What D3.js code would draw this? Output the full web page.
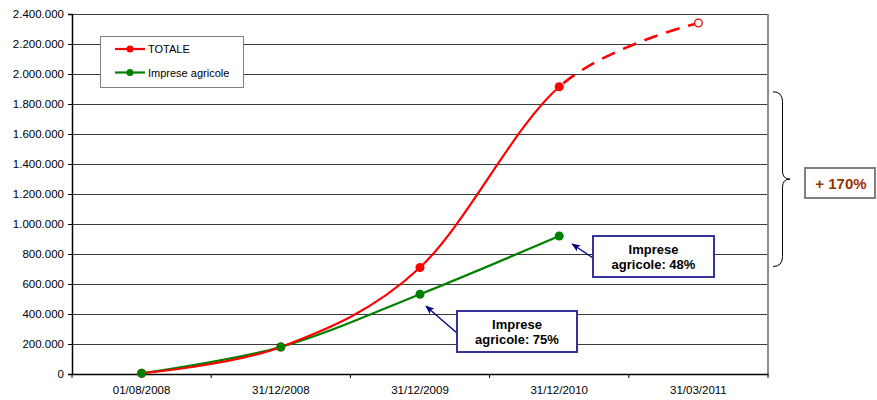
<!DOCTYPE html>
<html>
<head>
<meta charset="utf-8">
<script src="https://cdn.jsdelivr.net/npm/d3@7"></script>
<style>
  html, body { margin: 0; padding: 0; background: #fff; }
  svg { display: block; }
  text { font-family: "Liberation Sans", Arial, sans-serif; }
</style>
</head>
<body>
<svg id="chart" width="877" height="400"></svg>
<script>
// Dates on the category axis
const categories = ["01/08/2008", "31/12/2008", "31/12/2009", "31/12/2010", "31/03/2011"];
// Totale (last value is an estimate, drawn dashed with an open marker)
const totale = [5000, 180000, 710000, 1915000, 2340000];
// Imprese agricole (no value for the last date)
const impreseAgricole = [5000, 180000, 532000, 920000];
const yTicks = [0, 200000, 400000, 600000, 800000, 1000000, 1200000, 1400000, 1600000, 1800000, 2000000, 2200000, 2400000];
const seriesNames = ["TOTALE", "Imprese agricole"];
const notes = [
  { lines: ["Imprese", "agricole: 48%"] },
  { lines: ["Imprese", "agricole: 75%"] }
];
const growthLabel = "+ 170%";

const RED = "#ff0000", GREEN = "#008000", NAVY = "#333399";

const svg = d3.select("#chart");
const plotLeft = 72, plotRight = 768, plotTop = 14, plotBottom = 374;

const x = d3.scaleBand().domain(categories).range([plotLeft, plotRight]);
const cx = c => x(c) + x.bandwidth() / 2;
const y = d3.scaleLinear().domain([0, 2400000]).range([plotBottom, plotTop]);

const it = d3.formatLocale({ decimal: ",", thousands: ".", grouping: [3], currency: ["", "€"] });
const fmt = it.format(",");

// gridlines
svg.append("g").selectAll("line").data(yTicks.filter(v => v > 0)).join("line")
  .attr("x1", plotLeft).attr("x2", plotRight)
  .attr("y1", d => y(d)).attr("y2", d => y(d))
  .attr("stroke", "#3a3a3a").attr("stroke-width", 1).attr("shape-rendering", "crispEdges");

// right border of the plot area
svg.append("line").attr("x1", plotRight).attr("x2", plotRight).attr("y1", plotTop).attr("y2", plotBottom)
  .attr("stroke", "#8c8c8c").attr("stroke-width", 2);

// y axis
const yAxis = svg.append("g").attr("transform", `translate(${plotLeft},0)`)
  .call(d3.axisLeft(y).tickValues(yTicks).tickFormat(fmt).tickSize(4).tickPadding(4));
yAxis.select(".domain").attr("stroke", "#000").attr("stroke-width", 1.5);
yAxis.selectAll(".tick line").attr("stroke", "#000");
yAxis.selectAll("text").attr("font-size", 11.5).attr("fill", "#000")
  .attr("font-family", "'Liberation Sans', Arial, sans-serif");

// x axis: labels centred on categories, ticks between categories
const xAxis = svg.append("g").attr("transform", `translate(0,${plotBottom})`)
  .call(d3.axisBottom(x).tickSize(0).tickPadding(12));
xAxis.select(".domain").attr("stroke", "#000").attr("stroke-width", 1.5);
xAxis.selectAll("text").attr("font-size", 11.5).attr("fill", "#000")
  .attr("font-family", "'Liberation Sans', Arial, sans-serif");
const edges = categories.map(c => x(c)).concat([plotRight]);
svg.append("g").selectAll("line").data(edges).join("line")
  .attr("x1", d => d).attr("x2", d => d)
  .attr("y1", plotBottom).attr("y2", plotBottom + 4)
  .attr("stroke", "#000").attr("stroke-width", 1);

// smoothed lines
const line = d3.line().x(d => d[0]).y(d => d[1]).curve(d3.curveCatmullRom.alpha(0));
const redPts = totale.map((v, i) => [cx(categories[i]), y(v)]);
const greenPts = impreseAgricole.map((v, i) => [cx(categories[i]), y(v)]);

const defs = svg.append("defs");
const split = cx(categories[3]);
defs.append("clipPath").attr("id", "solidPart").append("rect")
  .attr("x", 0).attr("y", 0).attr("width", split).attr("height", 400);
defs.append("clipPath").attr("id", "dashPart").append("rect")
  .attr("x", split).attr("y", 0).attr("width", 877 - split).attr("height", 400);

svg.append("path").attr("d", line(greenPts)).attr("fill", "none")
  .attr("stroke", GREEN).attr("stroke-width", 2.2);
svg.append("path").attr("d", line(redPts)).attr("fill", "none")
  .attr("stroke", RED).attr("stroke-width", 2.2).attr("clip-path", "url(#solidPart)");
svg.append("path").attr("d", line(redPts.slice(2))).attr("fill", "none")
  .attr("stroke", RED).attr("stroke-width", 2.6).attr("stroke-dasharray", "14,9")
  .attr("stroke-dashoffset", -4)
  .attr("clip-path", "url(#dashPart)");

// markers
svg.append("g").selectAll("circle").data(redPts.slice(0, 4)).join("circle")
  .attr("cx", d => d[0]).attr("cy", d => d[1]).attr("r", 4.5).attr("fill", RED);
svg.append("circle").attr("cx", redPts[4][0]).attr("cy", redPts[4][1]).attr("r", 3.8)
  .attr("fill", "#fff").attr("stroke", RED).attr("stroke-width", 1.3);
svg.append("g").selectAll("circle").data(greenPts).join("circle")
  .attr("cx", d => d[0]).attr("cy", d => d[1]).attr("r", 4.5).attr("fill", GREEN);

// legend
const lg = svg.append("g");
lg.append("rect").attr("x", 100.5).attr("y", 36.5).attr("width", 143).attr("height", 51)
  .attr("fill", "#fff").attr("stroke", "#808080").attr("stroke-width", 1);
[RED, GREEN].forEach((col, i) => {
  const ly = 49 + i * 23.5;
  lg.append("line").attr("x1", 115).attr("x2", 145).attr("y1", ly).attr("y2", ly)
    .attr("stroke", col).attr("stroke-width", 2.2);
  lg.append("circle").attr("cx", 130).attr("cy", ly).attr("r", 3.5).attr("fill", col);
  lg.append("text").attr("x", 148).attr("y", ly + 4).attr("font-size", 11)
    .attr("fill", "#000").text(seriesNames[i]);
});

// arrowhead
defs.append("marker").attr("id", "arrow").attr("viewBox", "0 0 10 10")
  .attr("refX", 9).attr("refY", 5).attr("markerWidth", 7).attr("markerHeight", 7)
  .attr("orient", "auto-start-reverse")
  .append("path").attr("d", "M0,1 L10,5 L0,9 L2.5,5 Z").attr("fill", "#000080");

// annotation boxes with arrows pointing at the Imprese agricole markers
const boxes = [
  { x: 593, y: 236, w: 121, h: 41, from: [593, 258], to: [greenPts[3][0] + 13, greenPts[3][1] + 8] },
  { x: 457, y: 311, w: 120, h: 41, from: [457, 333], to: [greenPts[2][0] + 6, greenPts[2][1] + 12] }
];
boxes.forEach((b, i) => {
  svg.append("line").attr("x1", b.from[0]).attr("y1", b.from[1])
    .attr("x2", b.to[0]).attr("y2", b.to[1])
    .attr("stroke", "#000080").attr("stroke-width", 1.3).attr("marker-end", "url(#arrow)");
  svg.append("rect").attr("x", b.x).attr("y", b.y).attr("width", b.w).attr("height", b.h)
    .attr("fill", "#fff").attr("stroke", NAVY).attr("stroke-width", 2);
  notes[i].lines.forEach((t, k) => {
    svg.append("text").attr("x", b.x + b.w / 2).attr("y", b.y + 18 + k * 15)
      .attr("text-anchor", "middle").attr("font-size", 13).attr("font-weight", "bold")
      .attr("fill", "#000").text(t);
  });
});

// brace spanning the TOTALE growth from 2009 to 2010
const bTop = y(totale[3]) + 5, bBot = y(totale[2]) - 1, bMid = (bTop + bBot) / 2;
const bx0 = 773, bx1 = 782.5, bx2 = 790;
svg.append("path")
  .attr("d", `M${bx0},${bTop} Q${bx1},${bTop} ${bx1},${bTop + 10} L${bx1},${bMid - 8} Q${bx1},${bMid} ${bx2},${bMid} ` +
             `Q${bx1},${bMid} ${bx1},${bMid + 8} L${bx1},${bBot - 10} Q${bx1},${bBot} ${bx0},${bBot}`)
  .attr("fill", "none").attr("stroke", "#000").attr("stroke-width", 1);

svg.append("rect").attr("x", 805).attr("y", 168).attr("width", 70).attr("height", 30)
  .attr("fill", "#fff").attr("stroke", "#808080").attr("stroke-width", 2);
svg.append("text").attr("x", 841).attr("y", 189).attr("text-anchor", "middle")
  .attr("font-size", 15).attr("font-weight", "bold").attr("fill", "#993300").text(growthLabel);
</script>
</body>
</html>
